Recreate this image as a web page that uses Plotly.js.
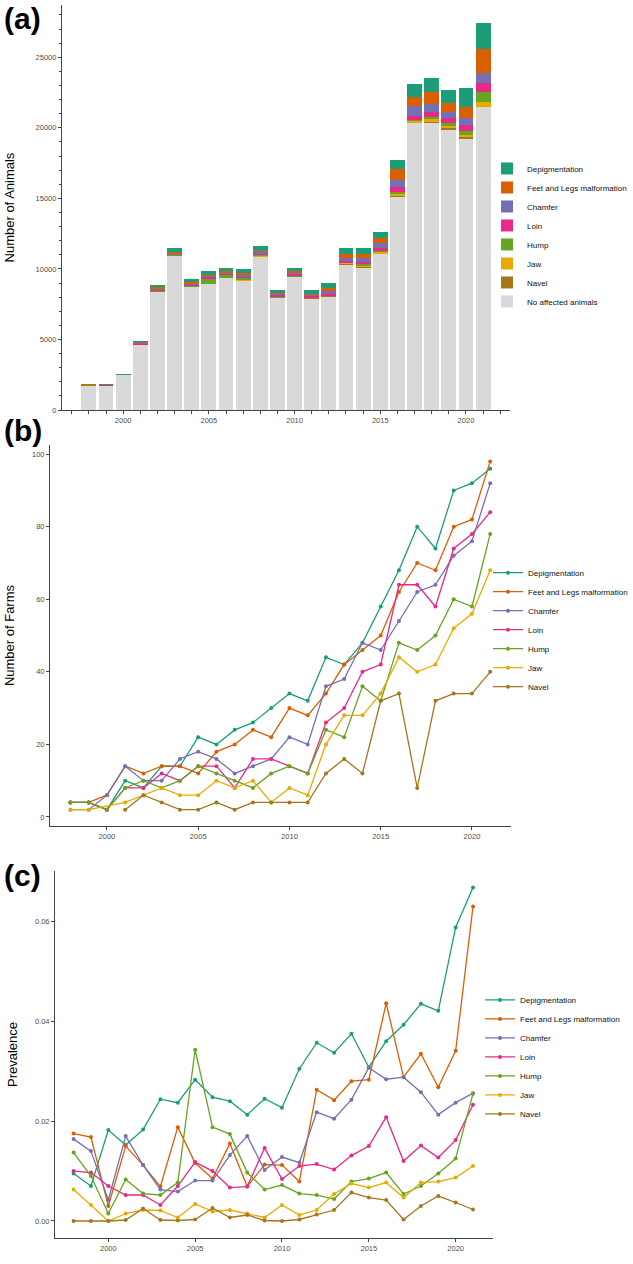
<!DOCTYPE html>
<html>
<head>
<meta charset="utf-8">
<script src="https://cdn.plot.ly/plotly-3.0.1.min.js"></script>
<style>html,body{margin:0;padding:0;background:#fff}#chart{width:633px;height:1264px}</style>
</head>
<body>
<div id="chart"></div>
<script>
const years = [1998,1999,2000,2001,2002,2003,2004,2005,2006,2007,2008,2009,2010,2011,2012,2013,2014,2015,2016,2017,2018,2019,2020,2021];
const defects = ['Depigmentation','Feet and Legs malformation','Chamfer','Loin','Hump','Jaw','Navel'];
const defectColors = ['#1B9E77','#D95F02','#7570B3','#E7298A','#66A61E','#E6AB02','#A6761D'];
const noAffectedLabel = 'No affected animals';
const noAffectedColor = '#D9D9D9';

// (a) Number of animals per year
const animalsNoAffected   = [1714,1711,2472,4595,8354,10897,8705,8905,9326,9167,10862,7943,9419,7902,8037,10307,10074,11029,15080,20335,20339,19864,19231,21447];
const animalsDepigmentation = [18,13,47,74,162,279,220,279,250,239,247,209,229,259,320,386,431,388,639,907,1024,956,1342,1831];
const animalsFeetLegs     = [32,31,8,74,99,79,175,114,86,154,80,96,113,67,236,277,322,357,774,665,788,609,778,1727];
const animalsChamfer      = [30,25,11,83,99,72,55,80,82,131,197,87,129,99,196,235,279,387,504,665,607,484,541,702];
const animalsLoin         = [19,18,18,25,46,37,65,116,101,67,80,124,85,93,102,118,151,189,369,277,355,288,370,639];
const animalsHump         = [25,16,4,41,49,60,72,339,190,173,113,54,73,47,47,50,91,107,172,125,165,216,285,699];
const animalsJaw          = [12,6,0,7,19,24,7,34,19,22,17,6,32,10,20,62,86,84,137,109,181,179,199,302];
const animalsNavel        = [0,0,0,1,22,2,1,3,26,7,14,1,0,3,12,25,66,59,75,7,71,114,84,63];

// (b) Number of farms per year
const farmsDepigmentation = [4,4,2,10,8,14,14,22,20,24,26,30,34,32,44,42,48,58,68,80,74,90,92,96];
const farmsFeetLegs       = [4,4,6,14,12,14,14,12,18,20,24,22,30,28,34,42,46,50,62,70,68,80,82,98];
const farmsChamfer        = [2,2,6,14,10,10,16,18,16,12,14,16,22,20,36,38,48,46,54,62,64,72,76,92];
const farmsLoin           = [4,4,2,8,8,12,10,14,14,8,16,16,14,12,26,30,40,42,64,64,58,74,78,84];
const farmsHump           = [4,4,2,8,10,8,10,14,12,10,8,12,14,12,24,22,36,32,48,46,50,60,58,78];
const farmsJaw            = [2,2,null,4,6,8,6,6,10,8,10,4,8,6,20,28,28,34,44,40,42,52,56,68];
const farmsNavel          = [null,null,null,2,6,4,2,2,4,2,4,4,4,4,12,16,12,32,34,8,32,34,34,40];

// (c) Prevalence per year
const prevDepigmentation = [0.0095,0.0070,0.0182,0.0152,0.0183,0.0244,0.0237,0.0283,0.0248,0.0240,0.0213,0.0245,0.0227,0.0305,0.0357,0.0337,0.0375,0.0308,0.0360,0.0393,0.0435,0.0421,0.0588,0.0668];
const prevFeetLegs       = [0.0175,0.0168,0.0030,0.0150,0.0112,0.0069,0.0188,0.0116,0.0085,0.0155,0.0069,0.0113,0.0112,0.0079,0.0263,0.0242,0.0280,0.0283,0.0436,0.0288,0.0335,0.0268,0.0341,0.0630];
const prevChamfer        = [0.0164,0.0140,0.0042,0.0170,0.0112,0.0063,0.0059,0.0081,0.0081,0.0132,0.0170,0.0102,0.0128,0.0117,0.0218,0.0205,0.0243,0.0307,0.0284,0.0288,0.0258,0.0213,0.0237,0.0256];
const prevLoin           = [0.0100,0.0097,0.0070,0.0052,0.0052,0.0032,0.0070,0.0118,0.0100,0.0067,0.0069,0.0146,0.0084,0.0110,0.0114,0.0103,0.0131,0.0150,0.0208,0.0120,0.0151,0.0127,0.0162,0.0233];
const prevHump           = [0.0137,0.0090,0.0015,0.0083,0.0055,0.0052,0.0077,0.0343,0.0188,0.0174,0.0097,0.0063,0.0072,0.0055,0.0052,0.0044,0.0079,0.0085,0.0097,0.0054,0.0070,0.0095,0.0125,0.0255];
const prevJaw            = [0.0063,0.0032,0.0000,0.0015,0.0022,0.0021,0.0007,0.0034,0.0019,0.0022,0.0015,0.0007,0.0032,0.0012,0.0022,0.0054,0.0075,0.0067,0.0077,0.0047,0.0077,0.0079,0.0087,0.0110];
const prevNavel          = [0,0,0,0.0002,0.0025,0.0002,0.0001,0.0003,0.0026,0.0007,0.0012,0.0001,0,0.0003,0.0013,0.0022,0.0057,0.0047,0.0042,0.0003,0.0030,0.0050,0.0037,0.0023];

const animalsByDefect = [animalsDepigmentation, animalsFeetLegs, animalsChamfer, animalsLoin, animalsHump, animalsJaw, animalsNavel];
const farmsByDefect = [farmsDepigmentation, farmsFeetLegs, farmsChamfer, farmsLoin, farmsHump, farmsJaw, farmsNavel];
const prevByDefect = [prevDepigmentation, prevFeetLegs, prevChamfer, prevLoin, prevHump, prevJaw, prevNavel];

const FONT = 'Liberation Sans, Arial, Helvetica, sans-serif';
const traces = [];

// Panel (a): stacked bars, grey at bottom, then Navel ... Depigmentation on top
traces.push({type:'bar', x:years, y:animalsNoAffected, name:noAffectedLabel, marker:{color:noAffectedColor, line:{width:0}}, width:0.87, xaxis:'x', yaxis:'y', legend:'legend'});
for (let i = defects.length - 1; i >= 0; i--) {
  traces.push({type:'bar', x:years, y:animalsByDefect[i], name:defects[i], marker:{color:defectColors[i], line:{width:0}}, width:0.87, xaxis:'x', yaxis:'y', legend:'legend'});
}
// Panel (b)
for (let i = 0; i < defects.length; i++) {
  traces.push({type:'scatter', mode:'lines+markers', x:years, y:farmsByDefect[i], name:defects[i], connectgaps:true,
    line:{color:defectColors[i], width:1.3}, marker:{color:defectColors[i], size:4}, xaxis:'x2', yaxis:'y2', legend:'legend2'});
}
// Panel (c)
for (let i = 0; i < defects.length; i++) {
  traces.push({type:'scatter', mode:'lines+markers', x:years, y:prevByDefect[i], name:defects[i],
    line:{color:defectColors[i], width:1.3}, marker:{color:defectColors[i], size:4}, xaxis:'x3', yaxis:'y3', legend:'legend3'});
}

const axLine = '#444';
const tickFont = {family:FONT, size:7.5, color:'#4d4d4d'};
function xax(domain, range, anchor, minor) {
  const a = {domain:domain, range:range, anchor:anchor, tickmode:'linear', tick0:2000, dtick:5, ticks:'outside', ticklen:3,
    tickcolor:axLine, tickwidth:1, showline:true, linecolor:axLine, linewidth:1, showgrid:false, zeroline:false, tickfont:tickFont, fixedrange:true};
  if (minor) a.minor = {dtick:1, tick0:2000, ticks:'outside', ticklen:3, tickcolor:axLine, showgrid:false};
  return a;
}
function yax(domain, range, anchor, title, standoff, extra) {
  return Object.assign({domain:domain, range:range, anchor:anchor, ticks:'outside', ticklen:3, tickcolor:axLine, tickwidth:1,
    showline:true, linecolor:axLine, linewidth:1, showgrid:false, zeroline:false, tickfont:tickFont,
    title:{text:title, font:{family:FONT, size:13, color:'#000'}, standoff:standoff}}, extra);
}

const legendBase = {font:{family:FONT, size:8, color:'#111'}, bgcolor:'rgba(0,0,0,0)', xanchor:'left', yanchor:'middle'};

const layout = {
  width:633, height:1264, margin:{l:0, r:0, t:0, b:0},
  paper_bgcolor:'#fff', plot_bgcolor:'#fff', barmode:'stack', bargap:0,
  font:{family:FONT},
  showlegend:true,
  xaxis: xax([0.0979,0.8057],[1996.43,2022.57],'y',true),
  yaxis: yax([0.6756,0.9960],[0,28700],'x','Number of Animals', 18, {tickmode:'linear', tick0:0, dtick:5000, tickformat:'d', minor:{dtick:1000, ticks:'outside', ticklen:2, tickcolor:axLine, showgrid:false}}),
  xaxis2: xax([0.0790,0.8073],[1996.88,2022.14],'y2',false),
  yaxis2: yax([0.3465,0.6479],[-2.5,102.5],'x2','Number of Farms', 14, {tickmode:'linear', tick0:0, dtick:20}),
  xaxis3: xax([0.0869,0.7788],[1996.93,2022.15],'y3',false),
  yaxis3: yax([0.0206,0.3109],[-0.0034,0.0701],'x3','Prevalence', 14, {tickmode:'array', tickvals:[0,0.02,0.04,0.06], ticktext:['0.00','0.02','0.04','0.06']}),
  legend: Object.assign({}, legendBase, {x:0.7694, y:0.8141, traceorder:'reversed'}),
  legend2: Object.assign({}, legendBase, {x:0.7709, y:0.5018, traceorder:'normal'}),
  legend3: Object.assign({}, legendBase, {x:0.7583, y:0.1638, traceorder:'normal'}),
  annotations: [
    {text:'<b>(a)</b>', xref:'paper', yref:'paper', x:0.003, y:1.0, xanchor:'left', yanchor:'top', showarrow:false, font:{family:FONT, size:30, color:'#000'}},
    {text:'<b>(b)</b>', xref:'paper', yref:'paper', x:0.003, y:1-412/1264, xanchor:'left', yanchor:'top', showarrow:false, font:{family:FONT, size:30, color:'#000'}},
    {text:'<b>(c)</b>', xref:'paper', yref:'paper', x:0.003, y:1-857/1264, xanchor:'left', yanchor:'top', showarrow:false, font:{family:FONT, size:30, color:'#000'}}
  ]
};

Plotly.newPlot('chart', traces, layout, {displayModeBar:false, staticPlot:true});
</script>
</body>
</html>
